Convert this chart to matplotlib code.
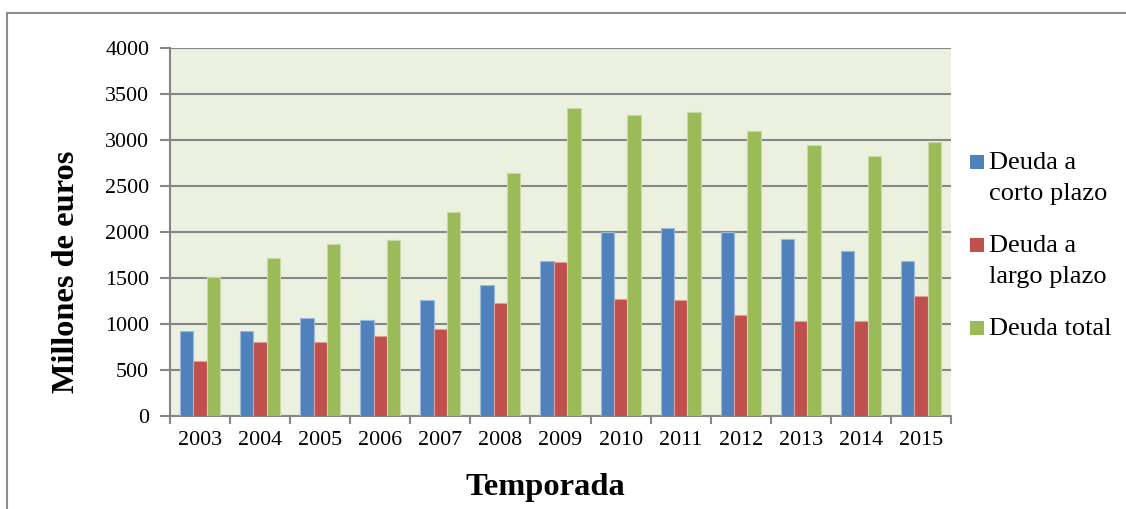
import matplotlib.pyplot as plt
import matplotlib.patches as mpatches
import numpy as np

plt.rcParams['font.family'] = ['Liberation Serif', 'DejaVu Serif']

years = ['2003', '2004', '2005', '2006', '2007', '2008', '2009',
         '2010', '2011', '2012', '2013', '2014', '2015']
corto = [920, 922, 1068, 1040, 1265, 1420, 1688, 2004, 2047, 2004, 1920, 1797, 1688]
largo = [595, 800, 800, 870, 950, 1225, 1671, 1268, 1257, 1094, 1029, 1032, 1301]
total = [1511, 1717, 1870, 1909, 2214, 2641, 3351, 3268, 3301, 3098, 2946, 2826, 2982]

series_names = ['Deuda a\ncorto plazo', 'Deuda a\nlargo plazo', 'Deuda total']
colors = ['#4F81BD', '#C0504D', '#9BBB59']
edges = ['#9DB9DC', '#DE9E9C', '#C6D9A6']

W, H = 1126, 509
fig = plt.figure(figsize=(W / 100, H / 100), dpi=100)

# outer chart frame (only left and top visible)
frame = mpatches.Rectangle((7 / W, -0.05), 1.2, (H - 13) / H + 0.05,
                           transform=fig.transFigure, fill=False,
                           edgecolor='#8C8C8C', linewidth=1.5)
fig.patches.append(frame)

ax = fig.add_axes([170 / W, (H - 416) / H, (951 - 170) / W, (416 - 48) / H])
ax.set_facecolor('#EBF1DE')

x = np.arange(len(years))
bw = 0.222
for i, (vals, c, e) in enumerate(zip([corto, largo, total], colors, edges)):
    ax.bar(x + (i - 1) * bw, vals, bw, color=c, edgecolor=e, linewidth=0.8, zorder=3)

ax.set_xlim(-0.5, len(years) - 0.5)
ax.set_ylim(0, 4000)
ax.set_yticks(range(0, 4001, 500))
ax.yaxis.grid(True, color='#868686', linewidth=1.5, zorder=1)
ax.set_axisbelow(True)

ax.set_xticks(x)
ax.set_xticklabels(years, fontsize=15.8)
ax.set_xticks(np.arange(-0.5, len(years)), minor=True)
ax.tick_params(axis='x', which='major', length=0, pad=11)
ax.tick_params(axis='x', which='minor', length=6, width=1.5, color='#868686')
ax.tick_params(axis='y', length=7, width=1.5, color='#868686', labelsize=15.8, pad=8)

for s in ['top', 'right']:
    ax.spines[s].set_visible(False)
for s in ['left', 'bottom']:
    ax.spines[s].set_color('#868686')
    ax.spines[s].set_linewidth(1.5)

fig.text(67 / W, 1 - 272 / H, 'Millones de euros', rotation=90, fontsize=23.3,
         fontweight='bold', ha='center', va='center')
fig.text(545 / W, 1 - 487 / H, 'Temporada', fontsize=23.4,
         fontweight='bold', ha='center', va='center')

# legend drawn by hand: swatch on the first line, one baseline per line
leg_base = [169, 252, 335]
line_gap = 31
for name, c, yb in zip(series_names, colors, leg_base):
    fig.patches.append(mpatches.Rectangle((970 / W, 1 - yb / H), 14 / W, 14 / H,
                                          transform=fig.transFigure,
                                          facecolor=c, edgecolor='none'))
    for k, line in enumerate(name.split('\n')):
        fig.text(989 / W, 1 - (yb + k * line_gap) / H, line, fontsize=19,
                 ha='left', va='baseline')

fig.savefig('out.png', dpi=100)
